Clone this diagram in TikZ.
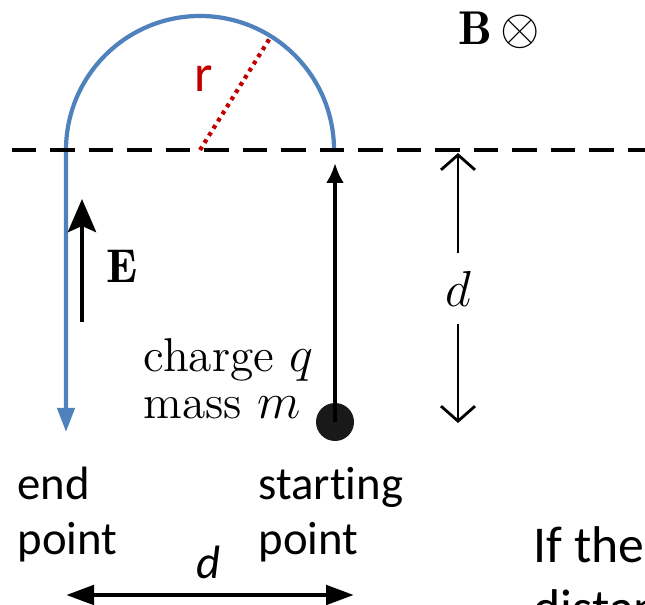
\documentclass[tikz,border=0pt]{standalone}
\usepackage{amsmath,amssymb}
\usepackage{fontspec}
\newfontfamily\slidefont[Ligatures=NoCommon]{Carlito}
\usepackage{xcolor}
\usepackage{tikz}
\usetikzlibrary{arrows.meta,positioning,calc}
\definecolor{trackblue}{RGB}{79,129,189}
\definecolor{radred}{RGB}{192,0,0}

\begin{document}
\begin{tikzpicture}[
  serif/.style={font=\fontsize{13.5}{14.2}\selectfont, inner sep=0pt},
  slide/.style={font=\slidefont\fontsize{13.3}{15.6}\selectfont, inner sep=0pt},
  track/.style={draw=trackblue, line width=1.2pt},
  boundary/.style={line width=1.4pt, dash pattern=on 2.45mm off 1.4mm, dash phase=2.7mm},
  radiusline/.style={draw=radred, line width=1.2pt, dash pattern=on 1.1pt off 1.3pt},
  startarrow/.style={-{Latex[length=2mm, width=1.8mm]}, line width=1.1pt},
  fieldarrow/.style={-{Stealth[length=3.3mm, width=2.8mm, inset=0.6mm]}, line width=1.4pt},
  dimarrow/.style={-{Straight Barb[length=1.5mm, width=3.4mm]}, line width=0.8pt},
  widtharrow/.style={{Triangle[length=2.8mm, width=1.9mm]}-{Triangle[length=2.8mm, width=1.9mm]}, line width=1.4pt},
]
\useasboundingbox (0,0) rectangle (6.45,6.04);

% ============ Semicircular track ============
\coordinate (centre) at (2.00,4.54);
\coordinate (launch) at (3.34,4.54);
\coordinate (landing) at (0.66,1.72);
\draw[track, -{Triangle[length=2.4mm, width=1.7mm]}] (launch)
  arc[start angle=0, end angle=180, radius=1.34] -- (landing);

% radius r
\coordinate (rim) at ($(centre)+(58:1.32)$);
\draw[radiusline] (centre) -- (rim);
\node[slide, font=\slidefont\fontsize{15}{18}\selectfont, text=radred] (rlab) at (2.04,5.25) {r};

% ============ Field boundary (dashed) ============
\coordinate (bleft) at (0,4.54);
\coordinate (bright) at (6.45,4.54);
\draw[boundary] (bleft) -- (bright);

% ============ B field ============
\node[serif, anchor=base west] (Blab) at (4.58,5.59) {$\mathbf{B}\,\otimes$};

% ============ E field ============
\coordinate (Ebot) at (0.82,2.82);
\coordinate (Etop) at (0.82,4.05);
\draw[fieldarrow] (Ebot) -- (Etop);
\node[serif, anchor=base west] (Elab) at (1.06,3.21) {$\mathbf{E}$};

% ============ Charge ============
\node[circle, fill=black!90, minimum size=3.8mm, inner sep=0pt] (charge) at (3.35,1.82) {};
\coordinate (entry) at (3.35,4.41);
\draw[startarrow] (charge.center) -- (entry);
\node[serif, anchor=base west] (qlab) at (1.43,2.32) {charge $q$};
\node[serif, anchor=base west] (mlab) at (1.43,1.85) {mass $m$};

% ============ Depth d ============
\node[serif, inner ysep=1.7mm] (dlab) at (4.58,3.155) {$d$};
\coordinate (dtop) at (4.58,4.51);
\coordinate (dbot) at (4.58,1.81);
\draw[dimarrow] (dlab.north) -- (dtop);
\draw[dimarrow] (dlab.south) -- (dbot);

% ============ End / starting points ============
\node[slide, anchor=base west] (endA) at (0.17,1.05) {end};
\node[slide, anchor=base west] (endB) at (0.17,0.50) {point};
\node[slide, anchor=base west] (startA) at (2.58,1.05) {starting};
\node[slide, anchor=base west] (startB) at (2.58,0.50) {point};

% width d
\coordinate (wleft) at (0.66,0.09);
\coordinate (wright) at (3.54,0.09);
\draw[widtharrow] (wleft) -- (wright);
\node[slide, anchor=base] (wlab) at (2.09,0.26) {\itshape d};

% ============ Slide text (cut off) ============
\begin{scope}
  \clip (0,0) rectangle (6.45,6.04);
  \node[slide, font=\slidefont\fontsize{14.7}{18}\selectfont, anchor=base west] (ifA) at (5.33,0.42) {If the};
  \node[slide, font=\slidefont\fontsize{14.7}{18}\selectfont, anchor=base west] (ifB) at (5.33,-0.21) {distance};
\end{scope}

\end{tikzpicture}
\end{document}
